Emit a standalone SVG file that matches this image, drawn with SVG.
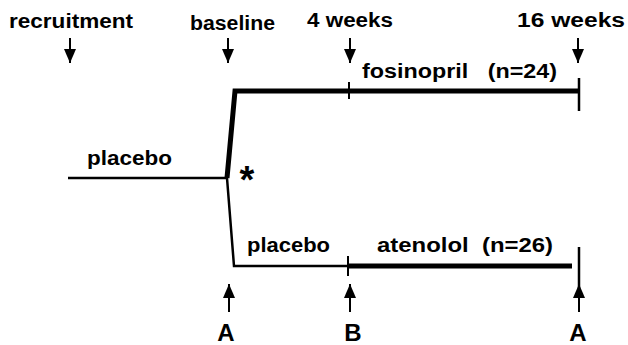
<svg xmlns="http://www.w3.org/2000/svg" width="628" height="345" viewBox="0 0 628 345">
<defs>
<style>
text{font-family:"Liberation Sans",Arial,sans-serif;font-weight:bold;fill:#000}
.lbl{font-size:19.5px}
.big{font-size:24px}
.thin{stroke:#000;stroke-width:2.5;fill:none}
.thick{stroke:#000;stroke-width:5;fill:none;stroke-linejoin:miter}
.ar{stroke:#000;stroke-width:2;fill:none}
</style>
<marker id="ah" viewBox="0 0 14 12" refX="14" refY="6" markerWidth="14" markerHeight="12" markerUnits="userSpaceOnUse" orient="auto">
<path d="M0,0 L14,6 L0,12 Z" fill="#000"/>
</marker>
</defs>
<rect width="628" height="345" fill="#fff"/>
<g id="labels">
<text class="lbl" x="9" y="28" textLength="124" lengthAdjust="spacingAndGlyphs">recruitment</text>
<text class="lbl" x="190" y="30" textLength="85" lengthAdjust="spacingAndGlyphs">baseline</text>
<text class="lbl" x="307" y="27" textLength="86" lengthAdjust="spacingAndGlyphs">4 weeks</text>
<text class="lbl" x="517" y="27" textLength="108" lengthAdjust="spacingAndGlyphs">16 weeks</text>
<text class="lbl" x="362" y="78" textLength="195" lengthAdjust="spacingAndGlyphs" xml:space="preserve">fosinopril   (n=24)</text>
<text class="lbl" x="87" y="165" textLength="85" lengthAdjust="spacingAndGlyphs">placebo</text>
<text class="lbl" x="247" y="252" textLength="83" lengthAdjust="spacingAndGlyphs">placebo</text>
<text class="lbl" x="377" y="252" textLength="176" lengthAdjust="spacingAndGlyphs" xml:space="preserve">atenolol  (n=26)</text>
<text style="font-size:38px" x="247" y="193" text-anchor="middle">*</text>
<text class="big" x="226" y="341" text-anchor="middle">A</text>
<text class="big" x="353" y="341" text-anchor="middle">B</text>
<text class="big" x="578" y="341" text-anchor="middle">A</text>
</g>
<g id="connectors">
<line class="ar" x1="70" y1="38" x2="70" y2="63" marker-end="url(#ah)"/>
<line class="ar" x1="228" y1="38" x2="228" y2="63" marker-end="url(#ah)"/>
<line class="ar" x1="350" y1="38" x2="350" y2="63" marker-end="url(#ah)"/>
<line class="ar" x1="578" y1="38" x2="578" y2="63" marker-end="url(#ah)"/>
<line class="ar" x1="229" y1="312" x2="229" y2="284" marker-end="url(#ah)"/>
<line class="ar" x1="350" y1="312" x2="350" y2="284" marker-end="url(#ah)"/>
<line class="ar" x1="579" y1="312" x2="579" y2="284" marker-end="url(#ah)"/>
<line class="thin" x1="68" y1="178" x2="227" y2="178"/>
<polyline class="thick" points="227,178 235,91 580,91"/>
<line class="ar" x1="349" y1="82" x2="349" y2="99"/>
<line class="thin" x1="579" y1="78" x2="579" y2="111"/>
<polyline class="thin" points="227,178 234,266 348,266"/>
<line class="thick" x1="347" y1="266" x2="572" y2="266"/>
<line class="ar" x1="348" y1="256" x2="348" y2="276"/>
<line class="thin" x1="579" y1="247" x2="579" y2="290"/>
</g>
</svg>
